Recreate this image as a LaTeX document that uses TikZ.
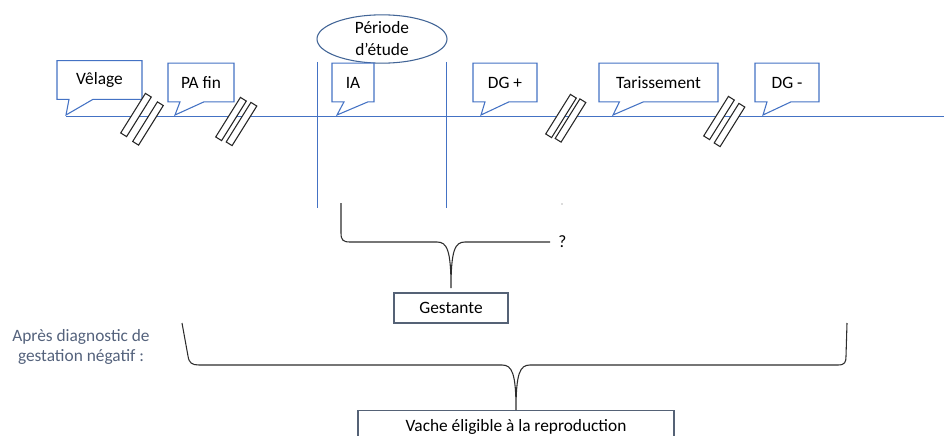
\documentclass[tikz,border=0pt]{standalone}
\usepackage{fontspec}
\setmainfont{Carlito}
\usepackage{tikz}
\usetikzlibrary{shapes,positioning}
\definecolor{lineblue}{RGB}{68,114,196}
\definecolor{ovalblue}{RGB}{65,100,150}
\definecolor{boxgrey}{RGB}{85,98,118}
\definecolor{notegrey}{RGB}{84,98,124}
\definecolor{bracegrey}{RGB}{45,45,45}
\tikzset{
  bubble/.style={
    rectangle callout,
    draw=lineblue, line width=0.8pt, fill=white,
    callout pointer width=18pt,
    minimum height=29pt, inner sep=0pt,
    text centered
  },
  cut/.style={
    rectangle,
    draw=black!85, line width=0.8pt, fill=white,
    minimum width=35pt, minimum height=5.2pt, inner sep=0pt,
    rotate=58
  },
  result/.style={
    rectangle,
    draw=boxgrey, line width=0.8pt, fill=white,
    inner sep=0pt, text centered
  },
  axis/.style={draw=lineblue, line width=0.75pt},
  brace/.style={draw=bracegrey, line width=0.8pt},
}

\begin{document}
\begin{tikzpicture}[x=0.75pt,y=-0.75pt,font=\fontsize{13}{16.5}\selectfont]
      \useasboundingbox (0,0) rectangle (944,435);
      \clip (0,0) rectangle (944,435);

      \coordinate (start) at (66,116);
      \coordinate (end) at (944,116);
      \draw[axis] (start) -- (end);

      \coordinate (p1top) at (317,62);
      \coordinate (p1bot) at (317,208);
      \coordinate (p2top) at (446,62);
      \coordinate (p2bot) at (446,208);
      \draw[axis] (p1top) -- (p1bot);
      \draw[axis] (p2top) -- (p2bot);

      \node[ellipse, draw=ovalblue, line width=0.8pt, fill=white, inner sep=0pt,
        minimum width=97.5pt, minimum height=31.5pt, align=center]
        (etude) at (382,39) {Période\\d’étude};

      \coordinate (tvel) at (66,115);
      \coordinate (tpa) at (175,115);
      \coordinate (tia) at (337,115);
      \coordinate (tdgp) at (481,115);
      \coordinate (ttar) at (613,115);
      \coordinate (tdgm) at (763,115);

      \node[bubble, minimum width=63.75pt, callout absolute pointer={(tvel)}]
        (velage) at (99.5,80) {Vêlage};
      \node[bubble, minimum width=49.5pt, callout absolute pointer={(tpa)}]
        (pafin) at (201,82.5) {PA fin};
      \node[bubble, minimum width=31.5pt, callout absolute pointer={(tia)}]
        (ia) at (353,82.5) {IA};
      \node[bubble, minimum width=48pt, callout absolute pointer={(tdgp)}]
        (dgplus) at (505,82.5) {DG +};
      \node[bubble, minimum width=89.25pt, callout absolute pointer={(ttar)}]
        (tariss) at (658.5,82.5) {Tarissement};
      \node[bubble, minimum width=48pt, callout absolute pointer={(tdgm)}]
        (dgmoins) at (787,82.5) {DG -};

      \foreach \xa/\ya/\xb/\yb [count=\i] in
        {136/115/148/123.5, 231/119/241.5/124, 561/116/570.5/120.5, 719/118/729.5/125} {
        \node[cut] (cut\i a) at (\xa,\ya) {};
        \node[cut] (cut\i b) at (\xb,\yb) {};
      }

      \fill[black!60] (562,204) circle (0.5pt);

      \node[result, minimum width=85.5pt, minimum height=22.5pt]
        (gestante) at (451,308) {Gestante};
      \coordinate (gtip) at (451,288);
      \coordinate (b1l) at (341,203);
      \coordinate (b1r) at (550,242);
      \draw[brace] (b1l) -- (341,233) .. controls (341,240) and (343,242) .. (350,242)
        -- (437,242) .. controls (447,242) and (451,250) .. (gtip)
        .. controls (451,250) and (455,242) .. (465,242) -- (b1r);
      \node[right=6pt of b1r, inner sep=0pt] (unknown) {?};

      \node[result, anchor=north, minimum width=237pt, minimum height=24pt]
        (vache) at (516,410) {Vache éligible à la reproduction};
      \coordinate (b2l) at (182,323);
      \coordinate (b2r) at (847,323);
      \draw[brace] (b2l) -- (188,356) .. controls (189,363) and (192,365) .. (199,365)
        -- (502,365) .. controls (512,365) and (516,373) .. (vache.north)
        .. controls (516,373) and (520,365) .. (530,365)
        -- (838,365) .. controls (845,365) and (846,362) .. (846,356) -- (b2r);

      \node[text=notegrey, align=center, font=\fontsize{13}{15}\selectfont]
        (apres) at (81,347) {Après diagnostic de\\gestation négatif :};
    \end{tikzpicture}
\end{document}
